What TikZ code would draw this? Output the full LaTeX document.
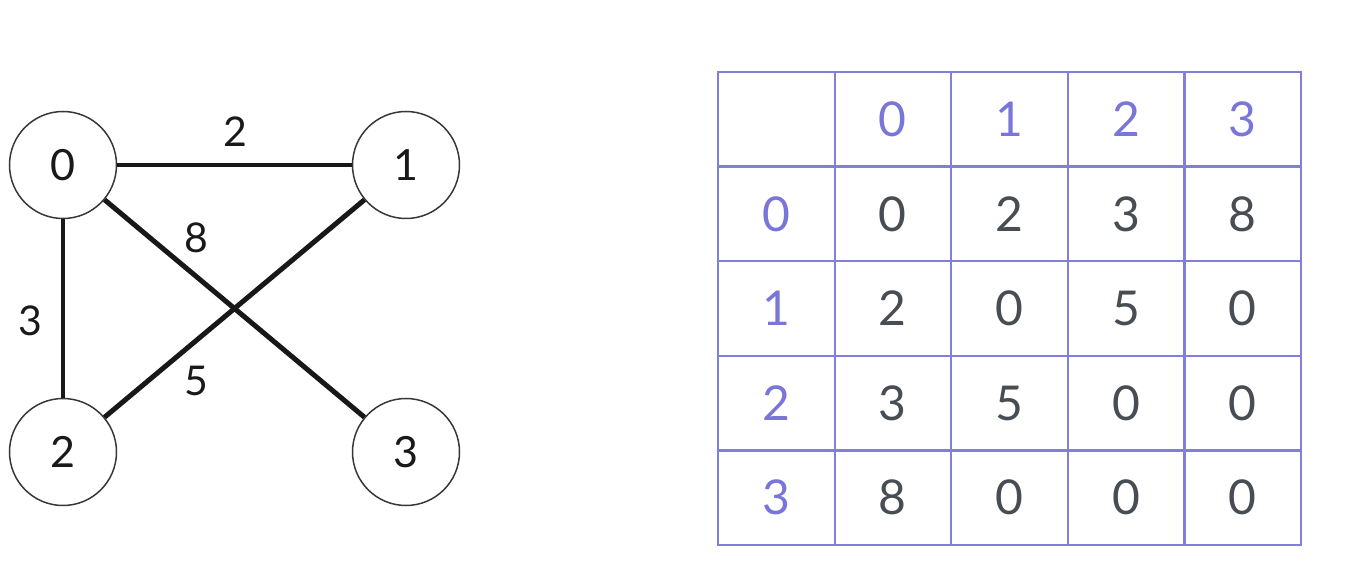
\documentclass[tikz,border=0pt]{standalone}
\usepackage{fontspec}
\setmainfont{Lato}
\definecolor{gridc}{RGB}{130,126,220}
\definecolor{headc}{RGB}{122,118,216}
\definecolor{numc}{RGB}{72,77,84}
\definecolor{edgec}{RGB}{24,24,24}
\definecolor{ringc}{RGB}{55,55,55}
\tikzset{
  vertex/.style={circle, draw=ringc, line width=1.5pt, minimum size=107pt, inner sep=0pt, fill=white, text=black!90, font=\fontsize{43}{43}\selectfont},
  edge/.style={draw=edgec, line width=4.5pt},
  wlabel/.style={text=black!90, font=\fontsize{41}{41}\selectfont, inner sep=0pt},
  cell/.style={rectangle, draw=gridc, line width=2.2pt, minimum width=116.6pt, minimum height=94.6pt, inner sep=0pt, font=\fontsize{48}{48}\selectfont},
  headcell/.style={cell, text=headc},
  numcell/.style={cell, text=numc}
}
\begin{document}
\begin{tikzpicture}[x=1pt,y=-1pt]
\useasboundingbox (0,0) rectangle (1360,577);
% graph
\node[vertex] (v0) at (63,165) {0};
\node[vertex] (v1) at (406,165) {1};
\node[vertex] (v2) at (63,452) {2};
\node[vertex] (v3) at (406,452) {3};
\draw[edge] (v0) -- (v1);
\draw[edge, line width=3.5pt] (v0) -- (v2);
\draw[edge, line width=5pt] (v0) -- (v3);
\draw[edge, line width=5pt] (v1) -- (v2);
\node[wlabel] (w01) at (235,132) {2};
\node[wlabel] (w03) at (196,238) {8};
\node[wlabel] (w02) at (30,321) {3};
\node[wlabel] (w12) at (196,381) {5};
% table
\def\cx#1{718+116.6*#1+58.3}
\def\cy#1{72+94.6*#1+47.3}
\node[cell] (c00) at ({\cx{0}},{\cy{0}}) {};
\foreach \j/\t in {1/0,2/1,3/2,4/3} {
  \node[headcell] (c0\j) at ({\cx{\j}},{\cy{0}}) {\t};
  \node[headcell] (c\j0) at ({\cx{0}},{\cy{\j}}) {\t};
}
\foreach \r/\vals in {1/{0,2,3,8},2/{2,0,5,0},3/{3,5,0,0},4/{8,0,0,0}} {
  \foreach \v [count=\c] in \vals {
    \node[numcell] (c\r\c) at ({\cx{\c}},{\cy{\r}}) {\v};
  }
}
\end{tikzpicture}
\end{document}
